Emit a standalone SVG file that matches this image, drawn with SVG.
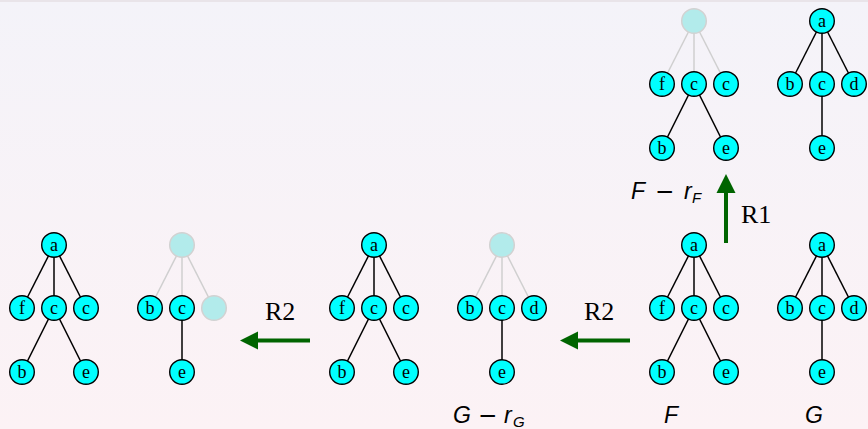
<svg xmlns="http://www.w3.org/2000/svg" width="868" height="429" viewBox="0 0 868 429">
  <defs>
    <linearGradient id="bg" x1="0" y1="0" x2="0" y2="1">
      <stop offset="0" stop-color="#f4f3f9"/>
      <stop offset="1" stop-color="#fcf2f5"/>
    </linearGradient>
    <style>
      .n circle { fill: #00ffff; stroke: #000; stroke-width: 1.4; }
      .n text { font-family: "Liberation Serif", "Times New Roman", serif; font-size: 18px; text-anchor: middle; fill: #000; }
      .gh circle { fill: #b2ebeb; stroke: #d2d2d2; stroke-width: 1.5; }
      .ed line { stroke: #000; stroke-width: 1.5; }
      .ed line.ge { stroke: #cfcfcf; }
      .arr line { stroke: #006400; stroke-width: 4; }
      .arr polygon { fill: #006400; }
      .rule { font-family: "Liberation Serif", "Times New Roman", serif; font-size: 26px; fill: #000; }
      .math { font-family: "Liberation Sans", Arial, sans-serif; font-style: italic; font-size: 23px; fill: #000; }
      .minus { font-family: "DejaVu Sans", sans-serif; font-style: normal; }
    </style>
  </defs>

  <rect x="0" y="0" width="868" height="429" fill="url(#bg)"/>
  <rect x="0" y="0" width="868" height="2" fill="#e9e4e9"/>

  <!-- tree edges -->
  <g id="connectors" class="ed">
    <!-- T1: F, bottom left -->
    <line x1="54" y1="245" x2="22" y2="308"/><line x1="54" y1="245" x2="54" y2="308"/><line x1="54" y1="245" x2="86" y2="308"/>
    <line x1="54" y1="308" x2="22" y2="372"/><line x1="54" y1="308" x2="86" y2="372"/>
    <!-- T2 -->
    <line class="ge" x1="182" y1="245" x2="150" y2="308"/><line class="ge" x1="182" y1="245" x2="182" y2="308"/><line class="ge" x1="182" y1="245" x2="214" y2="308"/>
    <line x1="182" y1="308" x2="182" y2="372"/>
    <!-- T3: F -->
    <line x1="374" y1="245" x2="342" y2="308"/><line x1="374" y1="245" x2="374" y2="308"/><line x1="374" y1="245" x2="406" y2="308"/>
    <line x1="374" y1="308" x2="342" y2="372"/><line x1="374" y1="308" x2="406" y2="372"/>
    <!-- T4: G - rG -->
    <line class="ge" x1="502" y1="245" x2="470" y2="308"/><line class="ge" x1="502" y1="245" x2="502" y2="308"/><line class="ge" x1="502" y1="245" x2="534" y2="308"/>
    <line x1="502" y1="308" x2="502" y2="372"/>
    <!-- T5: F -->
    <line x1="694" y1="245" x2="662" y2="308"/><line x1="694" y1="245" x2="694" y2="308"/><line x1="694" y1="245" x2="726" y2="308"/>
    <line x1="694" y1="308" x2="662" y2="372"/><line x1="694" y1="308" x2="726" y2="372"/>
    <!-- T6: G -->
    <line x1="822" y1="245" x2="790" y2="308"/><line x1="822" y1="245" x2="822" y2="308"/><line x1="822" y1="245" x2="854" y2="308"/>
    <line x1="822" y1="308" x2="822" y2="372"/>
    <!-- T7: F - rF -->
    <line class="ge" x1="694" y1="21" x2="662" y2="84"/><line class="ge" x1="694" y1="21" x2="694" y2="84"/><line class="ge" x1="694" y1="21" x2="726" y2="84"/>
    <line x1="694" y1="84" x2="662" y2="148"/><line x1="694" y1="84" x2="726" y2="148"/>
    <!-- T8: G -->
    <line x1="822" y1="21" x2="790" y2="84"/><line x1="822" y1="21" x2="822" y2="84"/><line x1="822" y1="21" x2="854" y2="84"/>
    <line x1="822" y1="84" x2="822" y2="148"/>
  </g>

  <!-- T1 -->
  <g id="t1-a" class="n"><circle cx="54" cy="245" r="12.3"/><text x="54" y="250.8">a</text></g>
  <g id="t1-f" class="n"><circle cx="22" cy="308" r="12.3"/><text x="22" y="313.8">f</text></g>
  <g id="t1-c1" class="n"><circle cx="54" cy="308" r="12.3"/><text x="54" y="313.8">c</text></g>
  <g id="t1-c2" class="n"><circle cx="86" cy="308" r="12.3"/><text x="86" y="313.8">c</text></g>
  <g id="t1-b" class="n"><circle cx="22" cy="372" r="12.3"/><text x="22" y="377.8">b</text></g>
  <g id="t1-e" class="n"><circle cx="86" cy="372" r="12.3"/><text x="86" y="377.8">e</text></g>

  <!-- T2 -->
  <g id="t2-root" class="gh"><circle cx="182" cy="245" r="12.3"/></g>
  <g id="t2-b" class="n"><circle cx="150" cy="308" r="12.3"/><text x="150" y="313.8">b</text></g>
  <g id="t2-c" class="n"><circle cx="182" cy="308" r="12.3"/><text x="182" y="313.8">c</text></g>
  <g id="t2-x" class="gh"><circle cx="214" cy="308" r="12.3"/></g>
  <g id="t2-e" class="n"><circle cx="182" cy="372" r="12.3"/><text x="182" y="377.8">e</text></g>

  <!-- T3 -->
  <g id="t3-a" class="n"><circle cx="374" cy="245" r="12.3"/><text x="374" y="250.8">a</text></g>
  <g id="t3-f" class="n"><circle cx="342" cy="308" r="12.3"/><text x="342" y="313.8">f</text></g>
  <g id="t3-c1" class="n"><circle cx="374" cy="308" r="12.3"/><text x="374" y="313.8">c</text></g>
  <g id="t3-c2" class="n"><circle cx="406" cy="308" r="12.3"/><text x="406" y="313.8">c</text></g>
  <g id="t3-b" class="n"><circle cx="342" cy="372" r="12.3"/><text x="342" y="377.8">b</text></g>
  <g id="t3-e" class="n"><circle cx="406" cy="372" r="12.3"/><text x="406" y="377.8">e</text></g>

  <!-- T4 -->
  <g id="t4-root" class="gh"><circle cx="502" cy="245" r="12.3"/></g>
  <g id="t4-b" class="n"><circle cx="470" cy="308" r="12.3"/><text x="470" y="313.8">b</text></g>
  <g id="t4-c" class="n"><circle cx="502" cy="308" r="12.3"/><text x="502" y="313.8">c</text></g>
  <g id="t4-d" class="n"><circle cx="534" cy="308" r="12.3"/><text x="534" y="313.8">d</text></g>
  <g id="t4-e" class="n"><circle cx="502" cy="372" r="12.3"/><text x="502" y="377.8">e</text></g>

  <!-- T5 -->
  <g id="t5-a" class="n"><circle cx="694" cy="245" r="12.3"/><text x="694" y="250.8">a</text></g>
  <g id="t5-f" class="n"><circle cx="662" cy="308" r="12.3"/><text x="662" y="313.8">f</text></g>
  <g id="t5-c1" class="n"><circle cx="694" cy="308" r="12.3"/><text x="694" y="313.8">c</text></g>
  <g id="t5-c2" class="n"><circle cx="726" cy="308" r="12.3"/><text x="726" y="313.8">c</text></g>
  <g id="t5-b" class="n"><circle cx="662" cy="372" r="12.3"/><text x="662" y="377.8">b</text></g>
  <g id="t5-e" class="n"><circle cx="726" cy="372" r="12.3"/><text x="726" y="377.8">e</text></g>

  <!-- T6 -->
  <g id="t6-a" class="n"><circle cx="822" cy="245" r="12.3"/><text x="822" y="250.8">a</text></g>
  <g id="t6-b" class="n"><circle cx="790" cy="308" r="12.3"/><text x="790" y="313.8">b</text></g>
  <g id="t6-c" class="n"><circle cx="822" cy="308" r="12.3"/><text x="822" y="313.8">c</text></g>
  <g id="t6-d" class="n"><circle cx="854" cy="308" r="12.3"/><text x="854" y="313.8">d</text></g>
  <g id="t6-e" class="n"><circle cx="822" cy="372" r="12.3"/><text x="822" y="377.8">e</text></g>

  <!-- T7 -->
  <g id="t7-root" class="gh"><circle cx="694" cy="21" r="12.3"/></g>
  <g id="t7-f" class="n"><circle cx="662" cy="84" r="12.3"/><text x="662" y="89.8">f</text></g>
  <g id="t7-c1" class="n"><circle cx="694" cy="84" r="12.3"/><text x="694" y="89.8">c</text></g>
  <g id="t7-c2" class="n"><circle cx="726" cy="84" r="12.3"/><text x="726" y="89.8">c</text></g>
  <g id="t7-b" class="n"><circle cx="662" cy="148" r="12.3"/><text x="662" y="153.8">b</text></g>
  <g id="t7-e" class="n"><circle cx="726" cy="148" r="12.3"/><text x="726" y="153.8">e</text></g>

  <!-- T8 -->
  <g id="t8-a" class="n"><circle cx="822" cy="21" r="12.3"/><text x="822" y="26.8">a</text></g>
  <g id="t8-b" class="n"><circle cx="790" cy="84" r="12.3"/><text x="790" y="89.8">b</text></g>
  <g id="t8-c" class="n"><circle cx="822" cy="84" r="12.3"/><text x="822" y="89.8">c</text></g>
  <g id="t8-d" class="n"><circle cx="854" cy="84" r="12.3"/><text x="854" y="89.8">d</text></g>
  <g id="t8-e" class="n"><circle cx="822" cy="148" r="12.3"/><text x="822" y="153.8">e</text></g>

  <!-- rule arrows -->
  <g id="arrows" class="arr">
    <line x1="726" y1="243" x2="726" y2="190"/>
    <polygon points="726,174 716.5,193 735.5,193"/>
    <line x1="630" y1="340.5" x2="575" y2="340.5"/>
    <polygon points="560,340.5 578,331.5 578,349.5"/>
    <line x1="310" y1="340.5" x2="255" y2="340.5"/>
    <polygon points="240,340.5 258,331.5 258,349.5"/>
  </g>

  <!-- labels -->
  <g id="labels">
    <text class="rule" x="741" y="223">R1</text>
    <text class="rule" x="584" y="319.5">R2</text>
    <text class="rule" x="265" y="319.5">R2</text>
    <text class="math" x="631" y="199">F<tspan class="minus" x="655">−</tspan><tspan x="684">r</tspan><tspan x="692" y="203" font-size="15">F</tspan></text>
    <text class="math" x="453" y="423">G<tspan class="minus" x="478">−</tspan><tspan x="504">r</tspan><tspan x="513" y="426.5" font-size="15">G</tspan></text>
    <text class="math" x="664" y="423">F</text>
    <text class="math" x="805" y="423">G</text>
  </g>
</svg>
